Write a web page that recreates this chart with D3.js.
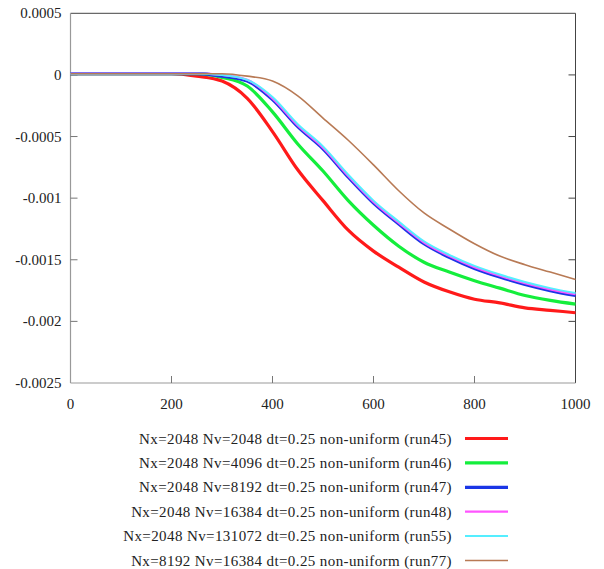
<!DOCTYPE html>
<html><head><meta charset="utf-8">
<script src="https://cdn.jsdelivr.net/npm/d3@7"></script>
<style>body{margin:0;background:#fff}</style>
</head><body><svg id="c" width="604" height="569"></svg>
<script>
const xs = [0,50,100,150,200,250,300,350,400,450,500,550,600,650,700,750,800,850,900,950,1000];
const run45 = [0.00001,0.00001,0.00001,0.00001,0.00001,-0.00001,-0.00005,-0.00019,-0.00046,-0.00077,-0.00102,-0.00126,-0.00143,-0.00156,-0.00168,-0.00176,-0.00182,-0.00185,-0.00189,-0.00191,-0.00193];
const run46 = [0.00001,0.00001,0.00001,0.00001,0.00001,0.00001,-0.00002,-0.00009,-0.0003,-0.00056,-0.00078,-0.00102,-0.00122,-0.00139,-0.00152,-0.0016,-0.00167,-0.00173,-0.00179,-0.00183,-0.00186];
const run47 = [0.00001,0.00001,0.00001,0.00001,0.00001,0.00001,-0.00001,-0.00005,-0.0002,-0.00042,-0.0006,-0.00083,-0.00104,-0.00121,-0.00137,-0.00148,-0.00157,-0.00164,-0.0017,-0.00175,-0.00179];
const run48 = [0.00001,0.00001,0.00001,0.00001,0.00001,0.00001,0.0,-0.00004,-0.00019,-0.00041,-0.00059,-0.00082,-0.00103,-0.0012,-0.00136,-0.00147,-0.00156,-0.00163,-0.00169,-0.00174,-0.00178];
const run55 = [0.00001,0.00001,0.00001,0.00001,0.00001,0.00001,0.0,-0.00004,-0.00018,-0.0004,-0.00058,-0.00081,-0.00102,-0.00119,-0.00135,-0.00146,-0.00155,-0.00162,-0.00168,-0.00173,-0.00177];
const run77 = [0.00001,0.00001,0.00001,0.00001,0.00001,0.00001,0.00001,-0.00001,-0.00005,-0.00017,-0.00035,-0.00053,-0.00073,-0.00094,-0.00112,-0.00125,-0.00137,-0.00147,-0.00154,-0.0016,-0.00166];
const labels = [
 "Nx=2048 Nv=2048 dt=0.25 non-uniform (run45)",
 "Nx=2048 Nv=4096 dt=0.25 non-uniform (run46)",
 "Nx=2048 Nv=8192 dt=0.25 non-uniform (run47)",
 "Nx=2048 Nv=16384 dt=0.25 non-uniform (run48)",
 "Nx=2048 Nv=131072 dt=0.25 non-uniform (run55)",
 "Nx=8192 Nv=16384 dt=0.25 non-uniform (run77)"];
const yTicks = [0.0005,0,-0.0005,-0.001,-0.0015,-0.002,-0.0025];
const yTickLabels = ["0.0005","0","-0.0005","-0.001","-0.0015","-0.002","-0.0025"];
const xTicks = [0,200,400,600,800,1000];

const series = [run45,run46,run47,run48,run55,run77];
const colors = ["#ff1a1a","#14ee3c","#1a36e6","#ff55ff","#55eeff","#b87a55"];
const widths = [3.2,3.2,3.2,2.2,2,1.6];
const FONT = "'Liberation Serif','Times New Roman',Times,'DejaVu Serif',serif";

const L=70.5,R=575.5,T=13.3,B=383;
const svg = d3.select("#c");
const x = d3.scaleLinear().domain([0,1000]).range([L,R]);
const y = d3.scaleLinear().domain([-0.0025,0.0005]).range([B,T]);

svg.append("line").attr("x1",L).attr("x2",R).attr("y1",T).attr("y2",T).attr("stroke","#444").attr("stroke-width",1);
svg.append("line").attr("x1",R).attr("x2",R).attr("y1",T).attr("y2",B).attr("stroke","#444").attr("stroke-width",1);
svg.append("line").attr("x1",L).attr("x2",L).attr("y1",T).attr("y2",B).attr("stroke","#999").attr("stroke-width",1.2);
svg.append("line").attr("x1",L).attr("x2",R).attr("y1",B).attr("y2",B).attr("stroke","#999").attr("stroke-width",1.2);

yTicks.forEach((v,i)=>{
  const yy=y(v);
  if(i>0 && i<yTicks.length-1){
    svg.append("line").attr("x1",L).attr("x2",L+7).attr("y1",yy).attr("y2",yy).attr("stroke","#777");
    svg.append("line").attr("x1",R-7).attr("x2",R).attr("y1",yy).attr("y2",yy).attr("stroke","#444");
  }
  svg.append("text").attr("x",L-9).attr("y",yy+5).attr("text-anchor","end").attr("font-family",FONT).attr("font-size",15).attr("fill","#222").text(yTickLabels[i]);
});
xTicks.forEach((v,i)=>{
  const xx=x(v);
  if(i>0 && i<xTicks.length-1){
    svg.append("line").attr("x1",xx).attr("x2",xx).attr("y1",B).attr("y2",B-7).attr("stroke","#777");
  }
  svg.append("text").attr("x",xx).attr("y",409).attr("text-anchor","middle").attr("font-family",FONT).attr("font-size",15).attr("fill","#222").text(v);
});

const line = d3.line().curve(d3.curveMonotoneX);
series.forEach((s,i)=>{
  svg.append("path").attr("d",line(xs.map((xv,j)=>[x(xv),y(s[j])])))
    .attr("fill","none").attr("stroke",colors[i]).attr("stroke-width",widths[i]).attr("stroke-linejoin","round");
});

labels.forEach((t,i)=>{
  const yy=438.5+i*24.4;
  svg.append("text").attr("x",452).attr("y",yy+5).attr("text-anchor","end").attr("font-family",FONT).attr("font-size",15).attr("letter-spacing","0.4px").attr("fill","#222").text(t);
  svg.append("line").attr("x1",465).attr("x2",508).attr("y1",yy).attr("y2",yy).attr("stroke",colors[i]).attr("stroke-width",widths[i]);
});
</script></body></html>
